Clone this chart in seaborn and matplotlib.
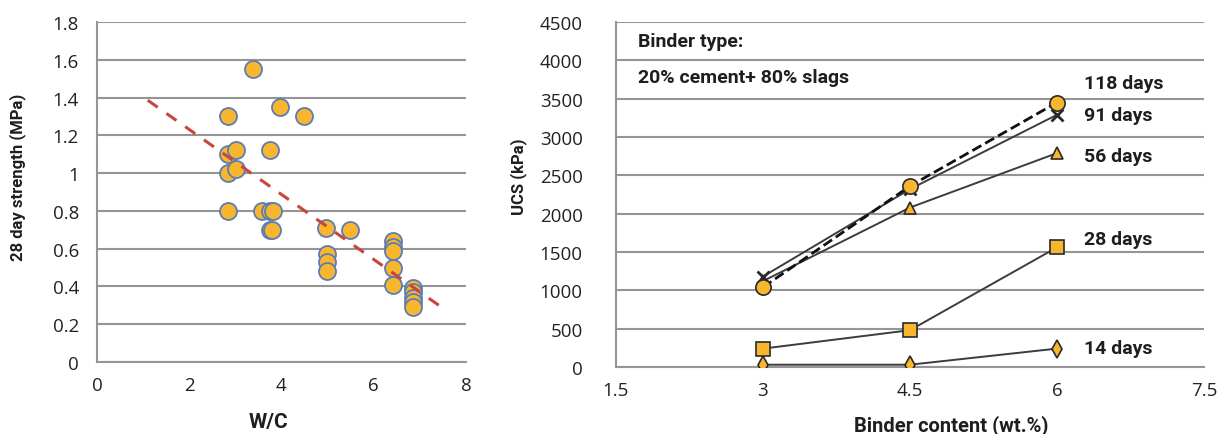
import matplotlib
matplotlib.use("Agg")
import matplotlib.pyplot as plt
import seaborn as sns
import pandas as pd
import numpy as np

# ---- left panel: 28-day strength vs water/cement ratio ----
wc_ratio = [3.38, 2.85, 3.96, 4.48, 2.84, 3.01, 3.76, 2.84, 3.01, 2.85,
            3.58, 3.76, 3.82, 3.76, 3.80, 4.97, 5.49, 4.99, 4.99, 4.99,
            6.42, 6.42, 6.42, 6.42, 6.42, 6.86, 6.86, 6.86, 6.86, 6.86]
strength_28d = [1.55, 1.30, 1.35, 1.30, 1.10, 1.12, 1.12, 1.00, 1.02, 0.80,
                0.80, 0.80, 0.80, 0.70, 0.70, 0.71, 0.70, 0.57, 0.53, 0.48,
                0.64, 0.61, 0.59, 0.50, 0.41, 0.39, 0.37, 0.34, 0.32, 0.29]
trend_slope = -0.172
trend_intercept = 1.575
trend_x = [1.1, 7.5]

# ---- right panel: UCS vs binder content ----
binder = [3.0, 4.5, 6.0]
ucs_14 = [30, 30, 240]
ucs_28 = [240, 480, 1560]
ucs_56 = [1120, 2080, 2790]
ucs_91 = [1180, 2320, 3290]
ucs_118 = [1040, 2360, 3450]
curve_labels = ["14 days", "28 days", "56 days", "91 days", "118 days"]
label_y = [250, 1670, 2750, 3285, 3700]

sns.set_style("white")
plt.rcParams["font.family"] = ["Open Sans", "DejaVu Sans"]

FILL = "#F8B52E"
GRID = "#959595"
LINE = "#3c3c3c"
bold = dict(family=["Roboto", "DejaVu Sans"], fontweight="bold", color="#1e1e1e")

fig = plt.figure(figsize=(12.26, 4.35), dpi=100)
ax1 = fig.add_axes([0.0791, 0.1655, 0.301, 0.7816])
ax2 = fig.add_axes([0.5024, 0.154, 0.4796, 0.793])


def style_axes(ax, ylen, ypad):
    for side in ("top", "right"):
        ax.spines[side].set_visible(False)
    for side in ("left", "bottom"):
        ax.spines[side].set_color(GRID)
        ax.spines[side].set_linewidth(1.5)
    ax.yaxis.grid(True, color=GRID, linewidth=1.5)
    ax.xaxis.grid(False)
    ax.set_axisbelow(True)
    ax.tick_params(axis="both", which="both", direction="out", width=1.5,
                   color=GRID, labelsize=13.5, labelcolor="#222222")
    ax.tick_params(axis="y", length=ylen, pad=ypad)
    ax.tick_params(axis="x", length=4, pad=6)


# left panel
df1 = pd.DataFrame({"wc": wc_ratio, "s": strength_28d})
sns.scatterplot(data=df1, x="wc", y="s", ax=ax1, s=150, color=FILL,
                edgecolor="#5b7db5", linewidth=1.3, zorder=3)
tx = np.array(trend_x)
ax1.plot(tx, trend_slope * tx + trend_intercept, color="#c8463c",
         linewidth=2.2, dashes=(4, 3.5), zorder=4)
ax1.set_xlim(0, 8)
ax1.set_ylim(0, 1.8)
ax1.set_xticks([0, 2, 4, 6, 8])
ax1.set_yticks(np.arange(0, 1.81, 0.2))
ax1.set_yticklabels(["0", "0.2", "0.4", "0.6", "0.8", "1", "1.2", "1.4", "1.6", "1.8"])
style_axes(ax1, ylen=5, ypad=8)
ax1.set_xlabel("W/C", fontsize=15, **bold)
ax1.set_ylabel("28 day strength (MPa)", fontsize=12, **bold)
ax1.xaxis.set_label_coords(0.466, -0.147)
ax1.yaxis.set_label_coords(-0.192, 0.547)

# right panel
series = [
    (ucs_14, "d", 9, "-", FILL),
    (ucs_28, "s", 10, "-", FILL),
    (ucs_56, "^", 9, "-", FILL),
    (ucs_91, "x", 8, "-", LINE),
    (ucs_118, "o", 11, "--", FILL),
]
for vals, mk, ms, ls, fc in series:
    d = pd.DataFrame({"b": binder, "u": vals})
    sns.lineplot(data=d, x="b", y="u", ax=ax2, color=LINE if ls == "-" else "#111111",
                 linewidth=1.4 if ls == "-" else 2.0, linestyle=ls,
                 marker=mk, markersize=ms, markerfacecolor=fc,
                 markeredgecolor="#2a2a2a", markeredgewidth=1.2 if mk != "x" else 2.0,
                 zorder=3)

for lab, y in zip(curve_labels, label_y):
    ax2.text(6.28, y, lab, ha="left", va="center", fontsize=14, **bold)
ax2.text(1.72, 4250, "Binder type:", ha="left", va="center", fontsize=14, **bold)
ax2.text(1.72, 3780, "20% cement+ 80% slags", ha="left", va="center", fontsize=14, **bold)

ax2.set_xlim(1.5, 7.5)
ax2.set_ylim(0, 4500)
ax2.set_xticks([1.5, 3, 4.5, 6, 7.5])
ax2.set_xticklabels(["1.5", "3", "4.5", "6", "7.5"])
ax2.set_yticks(np.arange(0, 4501, 500))
style_axes(ax2, ylen=8, ypad=16)
ax2.set_xlabel("Binder content (wt.%)", fontsize=14.5, **bold)
ax2.set_ylabel("UCS (kPa)", fontsize=12, **bold)
ax2.xaxis.set_label_coords(0.571, -0.136)
ax2.yaxis.set_label_coords(-0.151, 0.554)

fig.savefig("out.png", dpi=100, facecolor="white")
